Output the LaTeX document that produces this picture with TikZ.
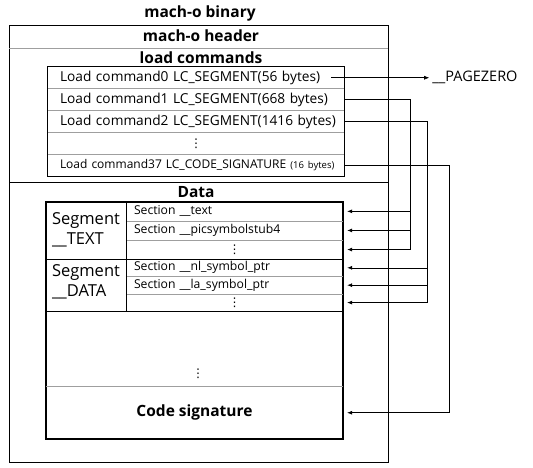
\documentclass[tikz,border=0pt]{standalone}
\usepackage{fontspec}
\setmainfont{Open Sans}
\newfontfamily\symfont{DejaVu Sans}
\usepackage{tikz}
\usetikzlibrary{arrows.meta,positioning,calc}

\newcommand{\vdotsym}{{\symfont\fontsize{12}{12}\selectfont ⋮}}

\tikzset{
    box/.style={draw, line width=1.1pt, inner sep=0pt},
    sep/.style={draw=gray!75, line width=0.6pt},
    wire/.style={line width=0.6pt},
    conn/.style={wire, -{Latex[length=5pt,width=4pt]}},
    heading/.style={font=\bfseries\fontsize{15.5}{18}\selectfont},
    lcrow/.style={inner xsep=12pt, inner ysep=0pt, text width=272pt, minimum height=21.5pt, align=left, font=\fontsize{13.7}{15}\selectfont},
    secrow/.style={inner xsep=8pt, inner ysep=0pt, text width=201pt, align=left, font=\fontsize{12.2}{13}\selectfont},
    seglabel/.style={align=left, font=\fontsize{16.5}{19.5}\selectfont},
}

\begin{document}
\begin{tikzpicture}[x=1pt, y=-1pt]
    \useasboundingbox (0,0) rectangle (533,468);

    % Binary outline
    \node[heading] (title) at (200,13) {mach-o binary};
    \node[draw, line width=0.8pt, minimum width=378.5pt, minimum height=436.5pt] (binary) at (198.75,243.75) {};
    \node[heading] (header) at (201,36) {mach-o header};
    \draw[sep] (binary.west |- 0,48.5) -- (binary.east |- 0,48.5);
    \node[heading] (lchead) at (201,58) {load commands};
    \draw[wire] (binary.west |- 0,182) -- (binary.east |- 0,182);

    % Load commands
    \node[lcrow] (lc0) at (196,77.75) {\mbox{Load command0 LC\_SEGMENT(56 bytes)}};
    \node[lcrow, below=0pt of lc0] (lc1) {\mbox{Load command1 LC\_SEGMENT(668 bytes)}};
    \node[lcrow, below=0pt of lc1] (lc2) {\mbox{Load command2 LC\_SEGMENT(1416 bytes)}};
    \node[lcrow, below=0pt of lc2, align=center] (lcdots) {\vdotsym};
    \node[lcrow, below=0pt of lcdots, font=\fontsize{12}{15}\selectfont] (lc37) {\mbox{Load command37 LC\_CODE\_SIGNATURE {\fontsize{9.5}{11}\selectfont(16 bytes)}}};
    \foreach \r in {lc0,lc1,lc2,lcdots}
        \draw[sep] (\r.south west) -- (\r.south east);
    \draw[box] (lc0.north west) rectangle (lc37.south east);

    % Data
    \node[heading] (data) at (196,192.5) {Data};
    \node[box, minimum width=297pt, minimum height=237pt] (databox) at (194.5,320.5) {};
    \node[secrow, minimum height=18.7pt] (sec1) at (234.5,211.35) {Section \_\_text};
    \node[secrow, minimum height=18.7pt, below=0pt of sec1] (sec2) {Section \_\_picsymbolstub4};
    \node[secrow, minimum height=18.7pt, below=0pt of sec2, align=center] (sec3) {\vdotsym};
    \node[secrow, minimum height=17pt, below=0pt of sec3] (sec4) {Section \_\_nl\_symbol\_ptr};
    \node[secrow, minimum height=17pt, below=0pt of sec4] (sec5) {Section \_\_la\_symbol\_ptr};
    \node[secrow, minimum height=17pt, below=0pt of sec5, align=center] (sec6) {\vdotsym};
    \foreach \r in {sec1,sec2,sec4,sec5}
        \draw[sep] (\r.south west) -- (\r.south east);
    \draw[wire] (sec1.north west) -- (sec6.south west);
    \draw[wire] (databox.west |- sec3.south) -- (sec3.south east);
    \draw[wire] (databox.west |- sec6.south) -- (sec6.south east);
    \node[seglabel] (segtext) at (86,230) {Segment\\\_\_TEXT};
    \node[seglabel] (segdata) at (86,282) {Segment\\\_\_DATA};
    \node (bigdots) at (198,374) {\vdotsym};
    \node[heading, minimum width=297pt, minimum height=52.5pt, inner sep=0pt] (sig) at (194.5,412.75) {Code signature};
    \draw[sep] (sig.north west) -- (sig.north east);

    % Connectors
    \node[anchor=west, inner xsep=3pt, font=\fontsize{14.5}{16}\selectfont] (pagezero) at ([xshift=85pt]lc0.east) {\_\_PAGEZERO};
    \coordinate (b1) at (410,0);
    \coordinate (b2) at (427,0);
    \coordinate (b3) at (449,0);
    \draw[conn] ([xshift=-13pt]lc0.east) -- (pagezero.west);
    \draw[wire] (lc1.east) -| (b1 |- sec3.east);
    \foreach \s in {sec1,sec2,sec3}
        \draw[conn] (b1 |- \s.east) -- ([xshift=4pt]\s.east);
    \draw[wire] (lc2.east) -| (b2 |- sec6.east);
    \foreach \s in {sec4,sec5,sec6}
        \draw[conn] (b2 |- \s.east) -- ([xshift=4pt]\s.east);
    \draw[wire] (lc37.east) -| (b3 |- sig.east);
    \draw[conn] (b3 |- sig.east) -- ([xshift=4pt]sig.east);
\end{tikzpicture}
\end{document}
